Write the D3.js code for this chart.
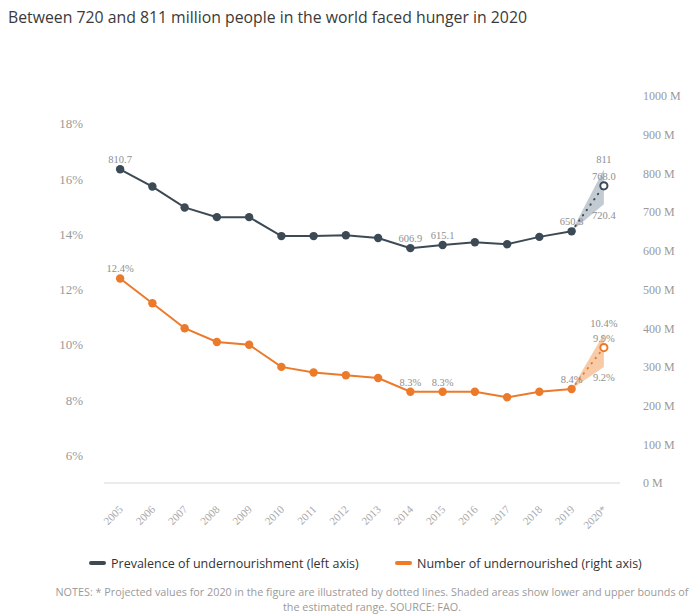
<!DOCTYPE html>
<html>
<head>
<meta charset="utf-8">
<script src="https://cdn.jsdelivr.net/npm/d3@7"></script>
<style>
  html, body { margin: 0; padding: 0; background: #fff; }
  svg { display: block; }
</style>
</head>
<body>
<svg id="chart" width="691" height="616"></svg>
<script>
// ---- data ----
const years = ["2005","2006","2007","2008","2009","2010","2011","2012","2013","2014","2015","2016","2017","2018","2019","2020*"];

// millions of people, drawn in slate against the right-hand scale
const undernourishedMillions = [810.7, 766, 712, 687, 687, 638, 638, 640, 633, 606.9, 615.1, 622, 617, 636, 650.3, 768.0];
const millionsRange2020 = [720.4, 811];

// percent, drawn in orange against the left-hand scale
const prevalencePct = [12.4, 11.5, 10.6, 10.1, 10.0, 9.2, 9.0, 8.9, 8.8, 8.3, 8.3, 8.3, 8.1, 8.3, 8.4, 9.9];
const prevalenceRange2020 = [9.2, 10.4];

const leftTicks = [6, 8, 10, 12, 14, 16, 18];
const rightTicks = [0, 100, 200, 300, 400, 500, 600, 700, 800, 900, 1000];

// which points carry a value label
const millionsLabels = [
  { i: 0, text: "810.7" }, { i: 9, text: "606.9" }, { i: 10, text: "615.1" },
  { i: 14, text: "650.3" }, { i: 15, text: "768.0" }
];
const prevalenceLabels = [
  { i: 0, text: "12.4%" }, { i: 9, text: "8.3%" }, { i: 10, text: "8.3%" },
  { i: 14, text: "8.4%" }, { i: 15, text: "9.9%" }
];

const legendItems = [
  { label: "Prevalence of undernourishment (left axis)", color: "#3c4a55" },
  { label: "Number of undernourished (right axis)", color: "#f07a26" }
];

// ---- layout ----
const svg = d3.select("#chart");
const slate = "#3c4a55", orange = "#ec7a2b";
const serif = "'Liberation Serif', 'DejaVu Serif', serif";
const sans = "'Open Sans', 'Noto Sans', sans-serif";

const x = d3.scalePoint().domain(years).range([104, 620]).padding(0.5);
const yLeft = d3.scaleLinear().domain([5, 19]).range([483, 96]);
const yRight = d3.scaleLinear().domain([0, 1000]).range([483, 96]);

// title
svg.append("text")
  .attr("x", 8).attr("y", 23)
  .attr("font-family", sans).attr("font-size", 15.8).attr("fill", "#3a3a3a")
  .text("Between 720 and 811 million people in the world faced hunger in 2020");

// baseline
svg.append("line")
  .attr("x1", 104).attr("x2", 620).attr("y1", 483).attr("y2", 483)
  .attr("stroke", "#e4e4e4").attr("stroke-width", 1.5);

// left axis labels
const leftAxis = d3.axisLeft(yLeft).tickValues(leftTicks).tickSize(0).tickPadding(0)
  .tickFormat(d => d + "%");
svg.append("g").attr("transform", "translate(83,0)").call(leftAxis)
  .call(g => g.select(".domain").remove())
  .call(g => g.selectAll("text").attr("font-family", serif).attr("font-size", 13)
    .attr("fill", "#9a9a9a").attr("dy", "0.32em"));

// right axis labels
const rightAxis = d3.axisRight(yRight).tickValues(rightTicks).tickSize(0).tickPadding(0)
  .tickFormat(d => d + " M");
svg.append("g").attr("transform", "translate(643,0)").call(rightAxis)
  .call(g => g.select(".domain").remove())
  .call(g => g.selectAll("text").attr("font-family", serif).attr("font-size", 12)
    .attr("fill", "#9a9a9a").attr("dy", "0.32em"));

// x labels, rotated
const xAxis = d3.axisBottom(x).tickSize(0).tickPadding(0);
svg.append("g").attr("transform", "translate(0,483)").call(xAxis)
  .call(g => g.select(".domain").remove())
  .call(g => g.selectAll("text")
    .attr("font-family", serif).attr("font-size", 11).attr("fill", "#a8a8a8")
    .attr("text-anchor", "end").attr("dy", 0)
    .attr("transform", "translate(3,27) rotate(-45)"));

// one series: solid history, shaded 2020 range, dotted projection, markers
function drawSeries(values, range, yScale, color, shade) {
  const last = values.length - 1;
  const hist = values.slice(0, last).map((v, i) => [years[i], v]);

  const band = [
    { year: years[last - 1], lo: values[last - 1], hi: values[last - 1] },
    { year: years[last], lo: range[0], hi: range[1] }
  ];
  svg.append("path").datum(band)
    .attr("d", d3.area().x(d => x(d.year)).y0(d => yScale(d.lo)).y1(d => yScale(d.hi)))
    .attr("fill", shade);

  svg.append("path").datum(hist)
    .attr("d", d3.line().x(d => x(d[0])).y(d => yScale(d[1])))
    .attr("fill", "none").attr("stroke", color).attr("stroke-width", 2);

  svg.append("path").datum([[years[last - 1], values[last - 1]], [years[last], values[last]]])
    .attr("d", d3.line().x(d => x(d[0])).y(d => yScale(d[1])))
    .attr("fill", "none").attr("stroke", color).attr("stroke-width", 2)
    .attr("stroke-dasharray", "0.5,6").attr("stroke-linecap", "round");

  svg.append("g").selectAll("circle").data(hist).join("circle")
    .attr("cx", d => x(d[0])).attr("cy", d => yScale(d[1])).attr("r", 4.2)
    .attr("fill", color);

  svg.append("circle")
    .attr("cx", x(years[last])).attr("cy", yScale(values[last])).attr("r", 3.6)
    .attr("fill", "#fff").attr("stroke", color).attr("stroke-width", 2);
}

drawSeries(undernourishedMillions, millionsRange2020, yRight, slate, "#c3cbd2");
drawSeries(prevalencePct, prevalenceRange2020, yLeft, orange, "#f8cba8");

// value labels
function valueLabel(cx, cy, text) {
  svg.append("text").attr("x", cx).attr("y", cy)
    .attr("text-anchor", "middle")
    .attr("font-family", serif).attr("font-size", 10.5).attr("fill", "#8f8f8f")
    .text(text);
}
millionsLabels.forEach(l => valueLabel(x(years[l.i]), yRight(undernourishedMillions[l.i]) - 6, l.text));
prevalenceLabels.forEach(l => valueLabel(x(years[l.i]), yLeft(prevalencePct[l.i]) - 6, l.text));
const lastYear = years[years.length - 1];
valueLabel(x(lastYear), yRight(millionsRange2020[1]) - 6, String(millionsRange2020[1]));
valueLabel(x(lastYear), yRight(millionsRange2020[0]) + 15, millionsRange2020[0].toFixed(1));
valueLabel(x(lastYear), yLeft(prevalenceRange2020[1]) - 7, prevalenceRange2020[1].toFixed(1) + "%");
valueLabel(x(lastYear), yLeft(prevalenceRange2020[0]) + 14, prevalenceRange2020[0].toFixed(1) + "%");

// legend
const legendX = [89, 395];
legendItems.forEach((item, k) => {
  const g = svg.append("g").attr("transform", `translate(${legendX[k]},563)`);
  g.append("line").attr("x1", 2).attr("x2", 15).attr("y1", 0).attr("y2", 0)
    .attr("stroke", item.color).attr("stroke-width", 4).attr("stroke-linecap", "round");
  g.append("text").attr("x", 22).attr("y", 4.5)
    .attr("font-family", sans).attr("font-size", 12.5).attr("fill", "#333")
    .text(item.label);
});

// notes
const notes = [
  "NOTES: * Projected values for 2020 in the figure are illustrated by dotted lines. Shaded areas show lower and upper bounds of",
  "the estimated range. SOURCE: FAO."
];
notes.forEach((t, k) => {
  svg.append("text").attr("x", 372).attr("y", 596 + k * 14.5)
    .attr("text-anchor", "middle")
    .attr("font-family", sans).attr("font-size", 10.8).attr("fill", "#9a9a9a")
    .text(t);
});
</script>
</body>
</html>
